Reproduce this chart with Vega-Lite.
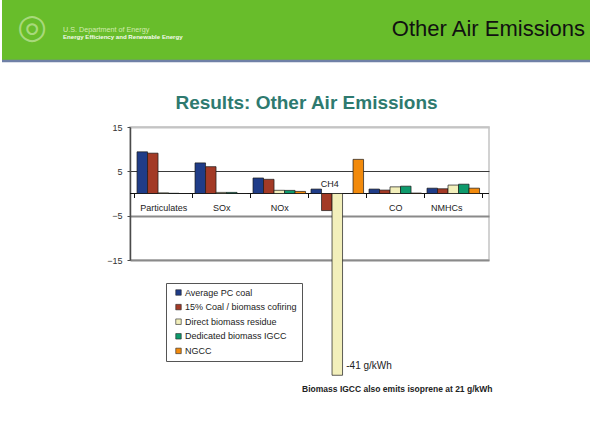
{
  "$schema": "https://vega.github.io/schema/vega-lite/v6.json",
  "padding": 0,
  "background": "white",
  "bounds": "flush",
  "spacing": 66,
  "config": {"font": "Liberation Sans"},
  "vconcat": [
    {
      "width": 590,
      "height": 61,
      "view": {"fill": "#68bd2b", "stroke": null},
      "layer": [
        {
          "data": {"values": [{}]},
          "mark": {"type": "rule", "color": "#6f80a6", "strokeWidth": 2.5},
          "encoding": {"y": {"datum": 0, "scale": {"domain": [0, 1]}, "axis": null}}
        },
        {
          "data": {"values": [{"t": "◎"}]},
          "mark": {"type": "text", "align": "center", "baseline": "middle", "dx": -265, "dy": -3, "fontSize": 34, "font": "DejaVu Sans", "color": "#a8d97c"},
          "encoding": {"text": {"field": "t"}}
        },
        {
          "data": {"values": [{"t": "U.S. Department of Energy"}]},
          "mark": {"type": "text", "align": "left", "baseline": "middle", "dx": -234, "dy": -0.5, "fontSize": 7.2, "color": "#d2ecb0"},
          "encoding": {"text": {"field": "t"}}
        },
        {
          "data": {"values": [{"t": "Energy Efficiency and Renewable Energy"}]},
          "mark": {"type": "text", "align": "left", "baseline": "middle", "dx": -234, "dy": 6, "fontSize": 6.1, "fontWeight": "bold", "color": "#f4faec"},
          "encoding": {"text": {"field": "t"}}
        },
        {
          "data": {"values": [{"t": "Other Air Emissions"}]},
          "mark": {"type": "text", "align": "right", "baseline": "alphabetic", "dx": 288, "dy": 5.5, "fontSize": 22, "color": "#111111"},
          "encoding": {"text": {"field": "t"}}
        }
      ]
    },
    {
      "bounds": "flush",
      "spacing": 8,
      "hconcat": [
        {
          "width": 120,
          "height": 133,
          "view": {"stroke": null},
          "data": {"values": []},
          "mark": "point"
        },
        {
          "width": 359,
          "height": 133,
          "view": {"stroke": "#c4c4c4", "strokeWidth": 1.5},
          "title": {"text": "Results: Other Air Emissions", "fontSize": 19, "fontWeight": "bold", "color": "#2e7a6f", "anchor": "middle", "offset": 10, "dx": -3},
          "data": {
            "values": [
              {"category": "Particulates", "source": "Average PC coal", "value": 9.4},
              {"category": "Particulates", "source": "15% Coal / biomass cofiring", "value": 9.1},
              {"category": "Particulates", "source": "Direct biomass residue", "value": 0.15},
              {"category": "Particulates", "source": "Dedicated biomass IGCC", "value": 0.05},
              {"category": "Particulates", "source": "NGCC", "value": 0},
              {"category": "SOx", "source": "Average PC coal", "value": 6.9},
              {"category": "SOx", "source": "15% Coal / biomass cofiring", "value": 6.05},
              {"category": "SOx", "source": "Direct biomass residue", "value": 0.25},
              {"category": "SOx", "source": "Dedicated biomass IGCC", "value": 0.25},
              {"category": "SOx", "source": "NGCC", "value": 0},
              {"category": "NOx", "source": "Average PC coal", "value": 3.5},
              {"category": "NOx", "source": "15% Coal / biomass cofiring", "value": 3.2},
              {"category": "NOx", "source": "Direct biomass residue", "value": 0.72},
              {"category": "NOx", "source": "Dedicated biomass IGCC", "value": 0.7},
              {"category": "NOx", "source": "NGCC", "value": 0.47},
              {"category": "CH4", "source": "Average PC coal", "value": 1.0},
              {"category": "CH4", "source": "15% Coal / biomass cofiring", "value": -3.85},
              {"category": "CH4", "source": "Direct biomass residue", "value": -41},
              {"category": "CH4", "source": "Dedicated biomass IGCC", "value": 0},
              {"category": "CH4", "source": "NGCC", "value": 7.7},
              {"category": "CO", "source": "Average PC coal", "value": 1.0},
              {"category": "CO", "source": "15% Coal / biomass cofiring", "value": 0.77},
              {"category": "CO", "source": "Direct biomass residue", "value": 1.5},
              {"category": "CO", "source": "Dedicated biomass IGCC", "value": 1.65},
              {"category": "CO", "source": "NGCC", "value": 0.1},
              {"category": "NMHCs", "source": "Average PC coal", "value": 1.2},
              {"category": "NMHCs", "source": "15% Coal / biomass cofiring", "value": 1.07},
              {"category": "NMHCs", "source": "Direct biomass residue", "value": 1.9},
              {"category": "NMHCs", "source": "Dedicated biomass IGCC", "value": 2.1},
              {"category": "NMHCs", "source": "NGCC", "value": 1.2}
            ]
          },
          "layer": [
            {
              "data": {"values": [{}]},
              "mark": {"type": "rule", "color": "#111111", "strokeWidth": 1.2},
              "encoding": {"y": {"datum": 0}}
            },
            {
              "mark": {"type": "bar", "stroke": "#1a1a1a", "strokeWidth": 0.7},
              "encoding": {
                "x": {
                  "field": "category", "type": "nominal",
                  "scale": {"domain": ["Particulates", "SOx", "NOx", "CH4", "CO", "NMHCs"], "paddingInner": 0, "paddingOuter": 0.095, "align": 0.39},
                  "axis": {
                    "orient": "bottom", "offset": -66.5, "title": null, "domain": false,
                    "tickBand": "extent", "tickOffset": -4.5, "tickSize": 4, "tickColor": "#111111", "tickWidth": 1,
                    "labelAngle": 0, "labelFontSize": 9, "labelColor": "#222222",
                    "labelPadding": {"condition": {"test": "datum.value === 'CH4'", "value": -18}, "value": 6},
                    "labelOffset": {"condition": [{"test": "datum.value === 'CH4'", "value": -8}, {"test": "datum.value === 'NMHCs'", "value": -7}], "value": 0}
                  }
                },
                "xOffset": {
                  "field": "source", "type": "nominal",
                  "scale": {"domain": ["Average PC coal", "15% Coal / biomass cofiring", "Direct biomass residue", "Dedicated biomass IGCC", "NGCC"], "paddingInner": 0, "paddingOuter": 0.26}
                },
                "y": {
                  "field": "value", "type": "quantitative",
                  "scale": {"domain": [-15, 15], "nice": false, "zero": false},
                  "axis": {
                    "values": [-15, -5, 5, 15], "title": null,
                    "domainColor": "#4a4a4a", "domainWidth": 1.5,
                    "tickColor": "#4a4a4a", "tickSize": 3, "tickWidth": 1,
                    "labelFontSize": 9, "labelColor": "#333333", "labelPadding": 5,
                    "grid": true,
                    "gridColor": {"condition": [{"test": "datum.value === 5", "value": "#3a3a3a"}, {"test": "datum.value === 15", "value": "#c4c4c4"}], "value": "#8a8a8a"},
                    "gridWidth": {"condition": {"test": "datum.value === 5", "value": 1.2}, "value": 2}
                  }
                },
                "color": {
                  "field": "source", "type": "nominal",
                  "scale": {
                    "domain": ["Average PC coal", "15% Coal / biomass cofiring", "Direct biomass residue", "Dedicated biomass IGCC", "NGCC"],
                    "range": ["#1f3c88", "#a33a26", "#f2efbb", "#0e9a6c", "#f28a0c"]
                  },
                  "legend": {
                    "orient": "none", "legendX": 164, "legendY": 283, "title": null,
                    "symbolType": "square", "symbolSize": 30, "symbolStrokeColor": "#222222", "symbolStrokeWidth": 0.6,
                    "labelFontSize": 9, "labelColor": "#222222", "labelOffset": 2,
                    "strokeColor": "#555555", "fillColor": "white", "padding": 5, "rowPadding": 4.6, "symbolOffset": 3
                  }
                }
              }
            },
            {
              "transform": [{"filter": "datum.value < -20"}],
              "mark": {"type": "text", "text": "-41 g/kWh", "align": "left", "baseline": "middle", "dx": 9, "dy": -9, "fontSize": 10, "color": "#222222"},
              "encoding": {
                "x": {"field": "category", "type": "nominal"},
                "xOffset": {"field": "source", "type": "nominal"},
                "y": {"field": "value", "type": "quantitative"}
              }
            },
            {
              "data": {"values": [{"note": "Biomass IGCC also emits isoprene at 21 g/kWh"}]},
              "mark": {"type": "text", "align": "center", "baseline": "middle", "dx": 2, "fontSize": 8.5, "fontWeight": "bold", "color": "#222222"},
              "encoding": {
                "x": {"datum": "CO"},
                "y": {"datum": -44},
                "text": {"field": "note"}
              }
            }
          ]
        }
      ]
    }
  ]
}
